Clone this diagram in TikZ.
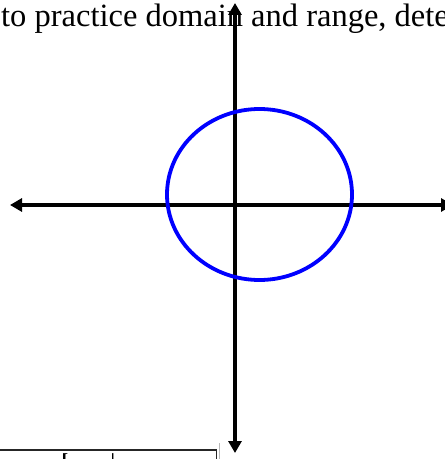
\documentclass[tikz,border=0pt]{standalone}
\usepackage{fontspec}
\setmainfont{Liberation Serif}
\usetikzlibrary{arrows.meta}

\begin{document}
\begin{tikzpicture}[x=1bp, y=-1bp,
  axis/.style={line width=3.5bp,
               {Triangle[length=12bp, width=13bp]}-{Triangle[length=12bp, width=13bp]}},
  curve/.style={draw=blue, line width=3.8bp},
  intro/.style={font=\fontsize{32.5bp}{36bp}\selectfont, anchor=base west, inner sep=0pt},
  cell/.style={font=\bfseries\fontsize{20bp}{22bp}\selectfont, anchor=north west, inner sep=0pt},
  table/.style={line width=1.4bp, color=black!85}
]
  \useasboundingbox (0,0) rectangle (445,459);
  \clip (0,0) rectangle (445,459);

  % Heading line, cut by the page
  \node[intro] (intro) at (1,27) {to practice domain and range, dete};

  % Axes
  \coordinate (xl) at (10,205);
  \coordinate (xr) at (453,205);
  \coordinate (yt) at (235,3);
  \coordinate (yb) at (235,453);
  \draw[axis] (xl) -- (xr);
  \draw[axis] (yt) -- (yb);

  % Relation
  \coordinate (c) at (259.5,194.5);
  \draw[curve] (c) ellipse [x radius=92.5, y radius=85.5];

  % Table below, cut by the page
  \draw[table] (-2,450) -- (216.5,450) -- (216.5,470);
  \draw[gray!55, line width=1bp] (219.5,443) -- (219.5,470);
  \node[cell] (lb) at (61.5,453) {[};
  \node[cell] (bar) at (110.5,453) {|};
\end{tikzpicture}
\end{document}
